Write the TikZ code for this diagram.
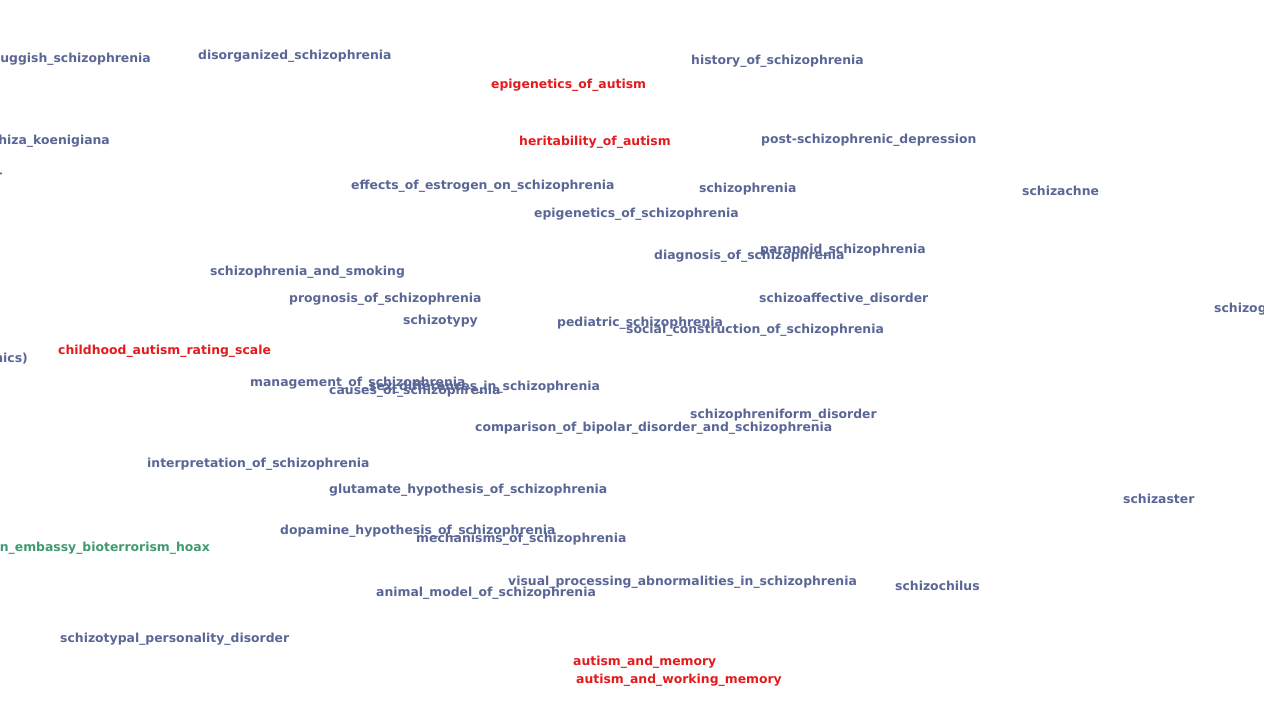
\documentclass[tikz,border=0pt]{standalone}
\usepackage{fontspec}
\setmainfont{DejaVu Sans}
\definecolor{slate}{HTML}{5A6696}
\definecolor{autred}{HTML}{E41A1C}
\definecolor{hoaxgreen}{HTML}{3F9A72}
\tikzset{
    lbl/.style={anchor=base west, inner sep=0pt, yshift=-4.5pt, text=slate,
        font=\fontsize{12.4}{14}\selectfont\bfseries},
    lble/.style={lbl, anchor=base east},
    red/.style={text=autred},
    grn/.style={text=hoaxgreen}
}
\begin{document}
\begin{tikzpicture}[x=1pt, y=-1pt]
    \useasboundingbox (0, 0) rectangle (1264, 711);

    \node[lble] (slug) at (151, 58) {sluggish\_schizophrenia};
    \node[lbl] (disorg) at (198, 55) {disorganized\_schizophrenia};
    \node[lbl] (hist) at (691, 60) {history\_of\_schizophrenia};
    \node[lbl, red] (epiaut) at (491, 84) {epigenetics\_of\_autism};

    \node[lble] (koen) at (110, 140) {schiza\_koenigiana};
    \node[lbl, red] (herit) at (519, 141) {heritability\_of\_autism};
    \node[lbl] (postsch) at (761, 139) {post-schizophrenic\_depression};
    \node[lble] (dash) at (3, 173) {-};

    \node[lbl] (estro) at (351, 185) {effects\_of\_estrogen\_on\_schizophrenia};
    \node[lbl] (schiz) at (699, 188) {schizophrenia};
    \node[lbl] (achne) at (1022, 191) {schizachne};
    \node[lbl] (episch) at (534, 213) {epigenetics\_of\_schizophrenia};

    \node[lbl] (diag) at (654, 255) {diagnosis\_of\_schizophrenia};
    \node[lbl] (para) at (760, 249) {paranoid\_schizophrenia};
    \node[lbl] (smok) at (210, 271) {schizophrenia\_and\_smoking};
    \node[lbl] (progn) at (289, 298) {prognosis\_of\_schizophrenia};
    \node[lbl] (affect) at (759, 298) {schizoaffective\_disorder};
    \node[lbl] (schizog) at (1214, 308) {schizogony};
    \node[lbl] (typy) at (403, 320) {schizotypy};
    \node[lbl] (pedia) at (557, 322) {pediatric\_schizophrenia};
    \node[lbl] (social) at (626, 329) {social\_construction\_of\_schizophrenia};

    \node[lble] (nics) at (28, 358) {nics)};
    \node[lbl, red] (cars) at (58, 350) {childhood\_autism\_rating\_scale};
    \node[lbl] (manage) at (250, 382) {management\_of\_schizophrenia};
    \node[lbl] (sexdiff) at (369, 386) {sex\_differences\_in\_schizophrenia};
    \node[lbl] (causes) at (329, 390) {causes\_of\_schizophrenia};
    \node[lbl] (form) at (690, 414) {schizophreniform\_disorder};
    \node[lbl] (bipol) at (475, 427) {comparison\_of\_bipolar\_disorder\_and\_schizophrenia};

    \node[lbl] (interp) at (147, 463) {interpretation\_of\_schizophrenia};
    \node[lbl] (gluta) at (329, 489) {glutamate\_hypothesis\_of\_schizophrenia};
    \node[lbl] (aster) at (1123, 499) {schizaster};
    \node[lbl] (dopa) at (280, 530) {dopamine\_hypothesis\_of\_schizophrenia};
    \node[lbl] (mech) at (416, 538) {mechanisms\_of\_schizophrenia};
    \node[lble, grn] (hoax) at (210, 547) {n\_embassy\_bioterrorism\_hoax};

    \node[lbl] (visual) at (508, 581) {visual\_processing\_abnormalities\_in\_schizophrenia};
    \node[lbl] (chilus) at (895, 586) {schizochilus};
    \node[lbl] (animal) at (376, 592) {animal\_model\_of\_schizophrenia};
    \node[lbl] (spd) at (60, 638) {schizotypal\_personality\_disorder};
    \node[lbl, red] (autmem) at (573, 661) {autism\_and\_memory};
    \node[lbl, red] (autwm) at (576, 679) {autism\_and\_working\_memory};
\end{tikzpicture}
\end{document}
